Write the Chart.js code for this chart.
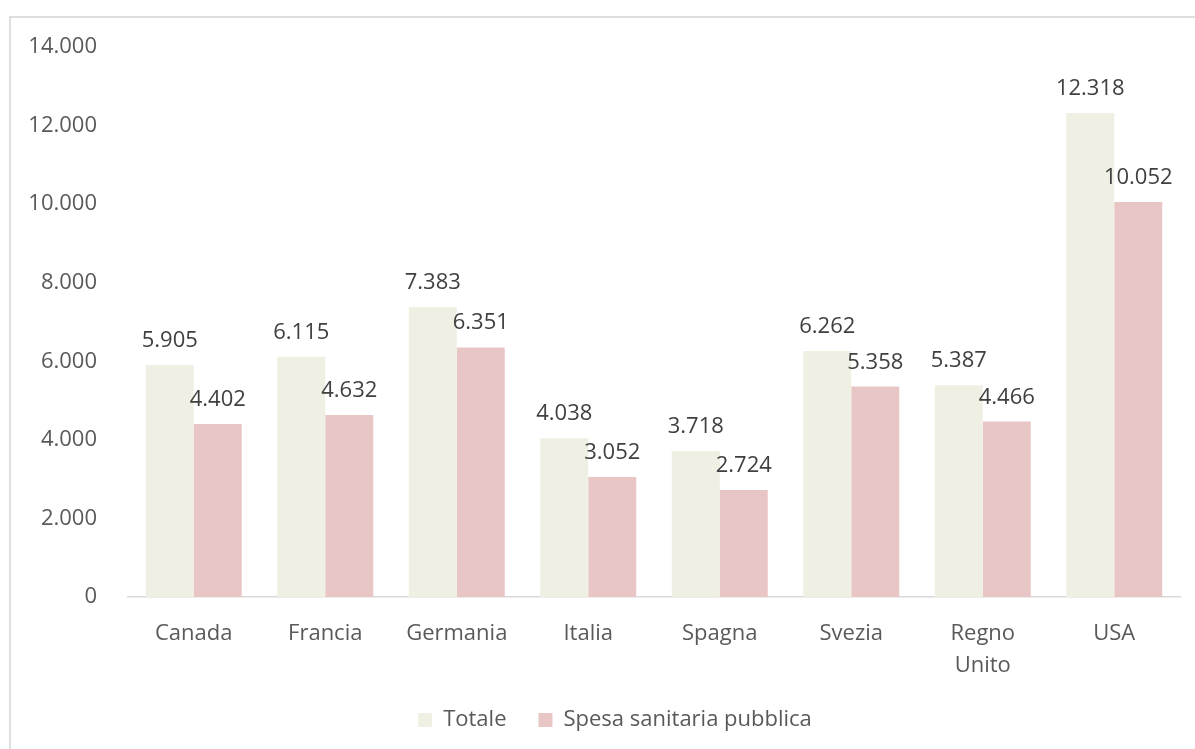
<!DOCTYPE html>
<html>
<head>
<meta charset="utf-8">
<script src="https://cdn.jsdelivr.net/npm/chart.js@4/dist/chart.umd.min.js"></script>
<style>
  html, body { margin: 0; padding: 0; background: #fff; overflow: hidden; width: 1195px; height: 749px; }
  #frame { position: absolute; left: 9px; top: 16px; width: 1260px; height: 800px; border-left: 2px solid #DEDEDE; border-top: 2px solid #DEDEDE; box-sizing: border-box; }
  #wrap { position: absolute; left: 0; top: 0; width: 1245px; height: 749px; }
</style>
</head>
<body>
<div id="frame"></div>
<div id="wrap"><canvas id="c"></canvas></div>
<script>
const categories = ['Canada', 'Francia', 'Germania', 'Italia', 'Spagna', 'Svezia', ['Regno', 'Unito'], 'USA'];
const totale = [5905, 6115, 7383, 4038, 3718, 6262, 5387, 12318];
const spesaPubblica = [4402, 4632, 6351, 3052, 2724, 5358, 4466, 10052];
const seriesNames = ['Totale', 'Spesa sanitaria pubblica'];
const yTicks = { min: 0, max: 14000, step: 2000 };

function fmt(v) {
  return String(Math.round(v)).replace(/\B(?=(\d{3})+(?!\d))/g, '.');
}

const FONT = "'Open Sans', 'Noto Sans', sans-serif";

const barLabels = {
  id: 'barLabels',
  afterDatasetsDraw(chart) {
    const ctx = chart.ctx;
    ctx.save();
    ctx.font = '22px ' + FONT;
    ctx.fillStyle = '#404040';
    ctx.textAlign = 'center';
    ctx.textBaseline = 'alphabetic';
    chart.data.datasets.forEach((ds, di) => {
      const meta = chart.getDatasetMeta(di);
      meta.data.forEach((el, i) => {
        ctx.fillText(fmt(ds.data[i]), el.x, el.y - 18);
      });
    });
    ctx.restore();
  }
};

new Chart(document.getElementById('c'), {
  type: 'bar',
  data: {
    labels: categories,
    datasets: [
      { label: seriesNames[0], data: totale, backgroundColor: '#EFEFE3', borderWidth: 0, yAxisID: 'y' },
      { label: seriesNames[1], data: spesaPubblica, backgroundColor: '#E8C6C5', borderWidth: 0, yAxisID: 'y' }
    ]
  },
  options: {
    responsive: true,
    maintainAspectRatio: false,
    animation: false,
    datasets: { bar: { categoryPercentage: 0.73, barPercentage: 1 } },
    layout: { padding: { left: 0, right: 15, top: 47, bottom: 8 } },
    plugins: {
      tooltip: { enabled: false },
      legend: {
        position: 'bottom',
        labels: {
          font: { family: FONT, size: 22 },
          color: '#595959',
          boxWidth: 14,
          boxHeight: 14,
          padding: 32
        }
      }
    },
    scales: {
      x: {
        grid: { display: false, drawTicks: false },
        border: { display: true, color: '#D9D9D9', width: 1.5 },
        ticks: {
          font: { family: FONT, size: 22, lineHeight: 1.45 },
          color: '#595959',
          padding: 21,
          maxRotation: 0,
          autoSkip: false
        },
        afterFit(scale) { scale.height = 80; }
      },
      y: {
        position: 'left',
        min: yTicks.min,
        max: yTicks.max,
        grid: { display: false, drawTicks: false },
        border: { display: false },
        ticks: {
          stepSize: yTicks.step,
          font: { family: FONT, size: 22 },
          color: '#595959',
          padding: 31,
          callback: (v) => fmt(v)
        },
        afterFit(scale) { scale.width = 128; }
      },
      ySpacer: {
        position: 'right',
        display: true,
        min: yTicks.min,
        max: yTicks.max,
        grid: { display: false, drawTicks: false },
        border: { display: false },
        ticks: { display: false },
        afterFit(scale) { scale.width = 50; }
      }
    }
  },
  plugins: [barLabels]
});
</script>
</body>
</html>
